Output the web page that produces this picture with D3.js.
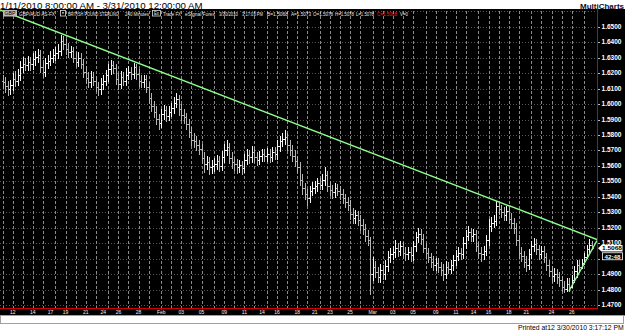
<!DOCTYPE html>
<html>
<head>
<meta charset="utf-8">
<title>GBP/AUD 240 Minutes</title>
<script src="https://d3js.org/d3.v7.min.js"></script>
<style>
body { margin: 0; background: #fff; font-family: "Liberation Sans", Arial, sans-serif; }
svg { display: block; }
</style>
</head>
<body>
<div id="chart"></div>
<script>
var width = 625, height = 331;
var plotRight = 597, plotTop = 9, plotBottom = 308;

// trading sessions (day, number of 240 minute bars)
var sessions = [
  ["Jan 11",4],["Jan 12",4],["Jan 13",4],["Jan 14",4],["Jan 15",3],
  ["Jan 17",2],["Jan 18",4],["Jan 19",4],["Jan 20",4],["Jan 21",4],["Jan 22",3],
  ["Jan 24",2],["Jan 25",4],["Jan 26",4],["Jan 27",4],["Jan 28",4],["Jan 29",3],
  ["Jan 31",2],["Feb 1",4],["Feb 2",4],["Feb 3",4],["Feb 4",4],["Feb 5",3],
  ["Feb 7",2],["Feb 8",4],["Feb 9",4],["Feb 10",4],["Feb 11",4],["Feb 12",3],
  ["Feb 14",2],["Feb 15",4],["Feb 16",4],["Feb 17",4],["Feb 18",4],["Feb 19",3],
  ["Feb 21",2],["Feb 22",4],["Feb 23",4],["Feb 24",4],["Feb 25",4],["Feb 26",3],
  ["Feb 28",2],["Mar 1",4],["Mar 2",4],["Mar 3",4],["Mar 4",4],["Mar 5",3],
  ["Mar 7",2],["Mar 8",4],["Mar 9",4],["Mar 10",4],["Mar 11",4],["Mar 12",3],
  ["Mar 14",2],["Mar 15",4],["Mar 16",4],["Mar 17",4],["Mar 18",4],["Mar 19",3],
  ["Mar 21",2],["Mar 22",4],["Mar 23",4],["Mar 24",4],["Mar 25",4],["Mar 26",3],
  ["Mar 28",2],["Mar 29",3],["Mar 30",1]
];

var tickLabels = [
  ["Jan 12","12"],["Jan 14","14"],["Jan 17","17"],["Jan 19","19"],["Jan 21","21"],
  ["Jan 24","24"],["Jan 26","26"],["Jan 28","28"],["Feb 1","Feb"],["Feb 3","03"],
  ["Feb 5","05"],["Feb 9","09"],["Feb 11","11"],["Feb 14","14"],["Feb 16","16"],
  ["Feb 18","18"],["Feb 21","21"],["Feb 23","23"],["Feb 25","25"],["Mar 1","Mar"],
  ["Mar 3","03"],["Mar 5","05"],["Mar 9","09"],["Mar 11","11"],["Mar 14","14"],
  ["Mar 16","16"],["Mar 18","18"],["Mar 21","21"],["Mar 24","24"],["Mar 26","26"]
];

var priceTicks = [1.47,1.48,1.49,1.50,1.51,1.52,1.53,1.54,1.55,1.56,1.57,1.58,1.59,1.60,1.61,1.62,1.63,1.64,1.65];

var opens = [
  1.6150,1.6140,1.6115,1.6098,1.6120,1.6165,1.6150,1.6185,1.6240,1.6262,
  1.6250,1.6270,1.6258,1.6290,1.6305,1.6318,1.6240,1.6210,1.6265,1.6280,
  1.6300,1.6320,1.6330,1.6345,1.6410,1.6390,1.6355,1.6335,1.6340,1.6300,
  1.6275,1.6300,1.6260,1.6210,1.6170,1.6140,1.6175,1.6150,1.6110,1.6095,
  1.6130,1.6150,1.6185,1.6225,1.6250,1.6235,1.6165,1.6130,1.6175,1.6150,
  1.6190,1.6210,1.6195,1.6240,1.6195,1.6150,1.6140,1.6160,1.6110,1.6040,
  1.5990,1.5950,1.5905,1.5880,1.5935,1.5960,1.5925,1.5950,1.5975,1.6010,
  1.6030,1.5965,1.5930,1.5915,1.5870,1.5820,1.5770,1.5760,1.5735,1.5710,
  1.5650,1.5610,1.5625,1.5590,1.5600,1.5615,1.5630,1.5600,1.5660,1.5700,
  1.5720,1.5650,1.5625,1.5610,1.5590,1.5605,1.5585,1.5640,1.5670,1.5655,
  1.5690,1.5660,1.5640,1.5665,1.5675,1.5665,1.5680,1.5660,1.5690,1.5675,
  1.5730,1.5760,1.5775,1.5790,1.5735,1.5700,1.5665,1.5630,1.5590,1.5510,
  1.5455,1.5420,1.5395,1.5440,1.5460,1.5470,1.5490,1.5480,1.5510,1.5540,
  1.5470,1.5445,1.5430,1.5455,1.5440,1.5420,1.5390,1.5365,1.5350,1.5290,
  1.5265,1.5285,1.5250,1.5220,1.5190,1.5150,1.5120,1.4900,1.4950,1.4915,
  1.4885,1.4930,1.4900,1.4955,1.5010,1.5030,1.5045,1.5070,1.5050,1.5080,
  1.5040,1.5030,1.5045,1.5025,1.5080,1.5140,1.5160,1.5130,1.5070,1.5040,
  1.5010,1.4980,1.4960,1.4975,1.4945,1.4930,1.4900,1.4950,1.4935,1.4960,
  1.4990,1.5020,1.5040,1.5030,1.5100,1.5150,1.5170,1.5145,1.5160,1.5080,
  1.5040,1.5030,1.5050,1.5120,1.5215,1.5230,1.5245,1.5340,1.5320,1.5300,
  1.5285,1.5310,1.5260,1.5230,1.5200,1.5120,1.5040,1.5020,1.4980,1.4960,
  1.5030,1.5080,1.5095,1.5060,1.5030,1.5050,1.5010,1.4960,1.4920,1.4890,
  1.4900,1.4880,1.4860,1.4820,1.4805,1.4840,1.4820,1.4860,1.4920,1.4960,
  1.4945,1.4970,1.5010,1.5060,1.5090
];
var highs = [
  1.6190,1.6178,1.6150,1.6155,1.6200,1.6212,1.6225,1.6280,1.6305,1.6298,
  1.6310,1.6302,1.6332,1.6342,1.6358,1.6348,1.6282,1.6300,1.6318,1.6340,
  1.6358,1.6366,1.6385,1.6446,1.6440,1.6420,1.6392,1.6378,1.6372,1.6335,
  1.6338,1.6330,1.6292,1.6245,1.6205,1.6215,1.6208,1.6182,1.6145,1.6168,
  1.6188,1.6218,1.6258,1.6285,1.6278,1.6262,1.6198,1.6212,1.6206,1.6230,
  1.6245,1.6242,1.6267,1.6262,1.6225,1.6185,1.6190,1.6188,1.6140,1.6070,
  1.6022,1.5988,1.5938,1.5968,1.5995,1.5990,1.5985,1.6008,1.6048,1.6072,
  1.6058,1.5998,1.5965,1.5945,1.5905,1.5852,1.5810,1.5795,1.5770,1.5740,
  1.5688,1.5665,1.5658,1.5638,1.5650,1.5668,1.5665,1.5698,1.5742,1.5770,
  1.5750,1.5688,1.5660,1.5642,1.5640,1.5635,1.5675,1.5712,1.5705,1.5730,
  1.5722,1.5692,1.5698,1.5712,1.5708,1.5715,1.5710,1.5725,1.5720,1.5765,
  1.5795,1.5812,1.5830,1.5815,1.5770,1.5735,1.5700,1.5665,1.5625,1.5545,
  1.5490,1.5450,1.5472,1.5495,1.5505,1.5522,1.5520,1.5548,1.5590,1.5565,
  1.5500,1.5478,1.5488,1.5482,1.5470,1.5450,1.5420,1.5398,1.5378,1.5325,
  1.5318,1.5312,1.5280,1.5255,1.5225,1.5185,1.5142,1.5010,1.4985,1.4950,
  1.4968,1.4962,1.4990,1.5050,1.5068,1.5085,1.5122,1.5105,1.5118,1.5110,
  1.5075,1.5078,1.5075,1.5115,1.5175,1.5200,1.5192,1.5160,1.5105,1.5070,
  1.5040,1.5015,1.5008,1.5005,1.4982,1.4965,1.4985,1.4980,1.4995,1.5022,
  1.5055,1.5075,1.5072,1.5138,1.5188,1.5212,1.5202,1.5195,1.5188,1.5110,
  1.5075,1.5085,1.5155,1.5255,1.5268,1.5280,1.5373,1.5362,1.5350,1.5332,
  1.5342,1.5338,1.5295,1.5262,1.5230,1.5152,1.5078,1.5052,1.5018,1.5062,
  1.5115,1.5132,1.5125,1.5090,1.5082,1.5080,1.5040,1.4995,1.4955,1.4938,
  1.4935,1.4915,1.4890,1.4855,1.4875,1.4875,1.4895,1.4955,1.4995,1.4990,
  1.5000,1.5038,1.5092,1.5128,1.5112
];
var lows = [
  1.6105,1.6080,1.6060,1.6068,1.6092,1.6118,1.6122,1.6158,1.6210,1.6218,
  1.6220,1.6222,1.6228,1.6255,1.6272,1.6205,1.6175,1.6182,1.6232,1.6250,
  1.6270,1.6288,1.6300,1.6318,1.6358,1.6322,1.6302,1.6305,1.6270,1.6245,
  1.6245,1.6230,1.6178,1.6138,1.6110,1.6112,1.6120,1.6082,1.6060,1.6068,
  1.6100,1.6120,1.6152,1.6195,1.6202,1.6132,1.6095,1.6102,1.6120,1.6122,
  1.6162,1.6165,1.6170,1.6162,1.6118,1.6110,1.6112,1.6080,1.6008,1.5958,
  1.5918,1.5872,1.5840,1.5850,1.5902,1.5892,1.5895,1.5922,1.5945,1.5978,
  1.5932,1.5895,1.5880,1.5840,1.5790,1.5738,1.5725,1.5702,1.5678,1.5618,
  1.5562,1.5578,1.5545,1.5555,1.5568,1.5582,1.5570,1.5572,1.5628,1.5672,
  1.5618,1.5588,1.5575,1.5552,1.5560,1.5545,1.5558,1.5610,1.5622,1.5628,
  1.5628,1.5605,1.5610,1.5632,1.5630,1.5635,1.5625,1.5632,1.5642,1.5648,
  1.5698,1.5728,1.5742,1.5705,1.5668,1.5632,1.5598,1.5558,1.5478,1.5420,
  1.5388,1.5347,1.5368,1.5410,1.5428,1.5440,1.5448,1.5452,1.5480,1.5438,
  1.5415,1.5395,1.5400,1.5410,1.5388,1.5358,1.5332,1.5318,1.5258,1.5230,
  1.5232,1.5220,1.5188,1.5158,1.5118,1.5090,1.4770,1.4862,1.4880,1.4848,
  1.4850,1.4868,1.4872,1.4922,1.4978,1.4998,1.5012,1.5018,1.5022,1.5008,
  1.4990,1.5000,1.4988,1.4995,1.5048,1.5108,1.5098,1.5042,1.5008,1.4978,
  1.4948,1.4928,1.4930,1.4912,1.4895,1.4862,1.4875,1.4905,1.4908,1.4930,
  1.4960,1.4990,1.4998,1.5002,1.5070,1.5122,1.5118,1.5115,1.5050,1.5005,
  1.4988,1.5000,1.5022,1.5092,1.5182,1.5205,1.5218,1.5288,1.5268,1.5252,
  1.5252,1.5230,1.5198,1.5168,1.5088,1.5008,1.4988,1.4948,1.4918,1.4932,
  1.5002,1.5052,1.5030,1.4998,1.5005,1.4980,1.4928,1.4888,1.4852,1.4858,
  1.4845,1.4825,1.4795,1.4787,1.4795,1.4792,1.4815,1.4852,1.4885,1.4915,
  1.4942,1.4968,1.5005,1.5035,1.5062
];
var closes = [
  1.6140,1.6115,1.6098,1.6120,1.6165,1.6150,1.6185,1.6240,1.6262,1.6250,
  1.6270,1.6258,1.6290,1.6305,1.6318,1.6240,1.6210,1.6265,1.6280,1.6300,
  1.6320,1.6330,1.6345,1.6410,1.6390,1.6355,1.6335,1.6340,1.6300,1.6275,
  1.6300,1.6260,1.6210,1.6170,1.6140,1.6175,1.6150,1.6110,1.6095,1.6130,
  1.6150,1.6185,1.6225,1.6250,1.6235,1.6165,1.6130,1.6175,1.6150,1.6190,
  1.6210,1.6195,1.6240,1.6195,1.6150,1.6140,1.6160,1.6110,1.6040,1.5990,
  1.5950,1.5905,1.5880,1.5935,1.5960,1.5925,1.5950,1.5975,1.6010,1.6030,
  1.5965,1.5930,1.5915,1.5870,1.5820,1.5770,1.5760,1.5735,1.5710,1.5650,
  1.5610,1.5625,1.5590,1.5600,1.5615,1.5630,1.5600,1.5660,1.5700,1.5720,
  1.5650,1.5625,1.5610,1.5590,1.5605,1.5585,1.5640,1.5670,1.5655,1.5690,
  1.5660,1.5640,1.5665,1.5675,1.5665,1.5680,1.5660,1.5690,1.5675,1.5730,
  1.5760,1.5775,1.5790,1.5735,1.5700,1.5665,1.5630,1.5590,1.5510,1.5455,
  1.5420,1.5395,1.5440,1.5460,1.5470,1.5490,1.5480,1.5510,1.5540,1.5470,
  1.5445,1.5430,1.5455,1.5440,1.5420,1.5390,1.5365,1.5350,1.5290,1.5265,
  1.5285,1.5250,1.5220,1.5190,1.5150,1.5120,1.4900,1.4950,1.4915,1.4885,
  1.4930,1.4900,1.4955,1.5010,1.5030,1.5045,1.5070,1.5050,1.5080,1.5040,
  1.5030,1.5045,1.5025,1.5080,1.5140,1.5160,1.5130,1.5070,1.5040,1.5010,
  1.4980,1.4960,1.4975,1.4945,1.4930,1.4900,1.4950,1.4935,1.4960,1.4990,
  1.5020,1.5040,1.5030,1.5100,1.5150,1.5170,1.5145,1.5160,1.5080,1.5040,
  1.5030,1.5050,1.5120,1.5215,1.5230,1.5245,1.5340,1.5320,1.5300,1.5285,
  1.5310,1.5260,1.5230,1.5200,1.5120,1.5040,1.5020,1.4980,1.4960,1.5030,
  1.5080,1.5095,1.5060,1.5030,1.5050,1.5010,1.4960,1.4920,1.4890,1.4900,
  1.4880,1.4860,1.4820,1.4805,1.4840,1.4820,1.4860,1.4920,1.4960,1.4945,
  1.4970,1.5010,1.5060,1.5090,1.5068
];

// hand drawn trend lines: [bar index, price]
var resistanceLine = [[-1.03, 1.6608], [236.06, 1.5124]];
var supportLine = [[224.9, 1.4790], [236.06, 1.5118]];

var lastPrice = 1.5068;
var barTimeLeft = "42:48";

var svg = d3.select("#chart").append("svg")
  .attr("width", width).attr("height", height)
  .style("font-family", '"Liberation Sans", Arial, sans-serif');

// squeeze a text horizontally so it fills a given width
function fitText(sel, w) {
  sel.each(function () {
    var natural = this.getComputedTextLength();
    var t = d3.select(this);
    var tx = +t.attr("x"), ty = +t.attr("y");
    t.attr("x", 0).attr("y", 0)
      .attr("transform", "translate(" + tx + "," + ty + ") scale(" + (w / natural) + ",1)");
  });
}

// titles on white
svg.append("text").attr("x", 0).attr("y", 8.5).attr("font-size", 9.5)
  .text("1/11/2010 8:00:00 AM - 3/31/2010 12:00:00 AM")
  .call(fitText, 203);
svg.append("text").attr("x", 624).attr("y", 8.5).attr("text-anchor", "end")
  .attr("font-size", 8).attr("font-weight", "bold").attr("fill", "#0a0a30")
  .text("MultiCharts");

// black chart window
svg.append("rect").attr("x", 0).attr("y", plotTop).attr("width", width).attr("height", 315.5 - plotTop)
  .attr("fill", "#000");

var x = d3.scaleLinear().domain([0, 234]).range([2.6, 591.8]);
var y = d3.scaleLinear().domain([1.47, 1.65]).range([305.2, 26.7]);

// session start bar indices
var sessionStart = {};
var n = 0;
sessions.forEach(function (s) { sessionStart[s[0]] = n; n += s[1]; });

svg.append("defs").append("clipPath").attr("id", "plotclip")
  .append("rect").attr("x", 0).attr("y", plotTop).attr("width", plotRight).attr("height", plotBottom - plotTop);

var plot = svg.append("g").attr("clip-path", "url(#plotclip)");

// grid
plot.selectAll(".hgrid").data(priceTicks.concat([1.66])).enter().append("line")
  .attr("x1", 0).attr("x2", plotRight)
  .attr("y1", function (d) { return Math.round(y(d)) + 0.5; })
  .attr("y2", function (d) { return Math.round(y(d)) + 0.5; })
  .attr("stroke", "#555").attr("stroke-dasharray", "1,2");

// one dashed line per weekday session (the short sunday sessions get none)
var gridSessions = sessions.filter(function (s) { return s[1] > 2; });
plot.selectAll(".vgrid").data(gridSessions).enter().append("line")
  .attr("x1", function (d) { return Math.round(x(sessionStart[d[0]])) + 0.5; })
  .attr("x2", function (d) { return Math.round(x(sessionStart[d[0]])) + 0.5; })
  .attr("y1", plotTop + 2).attr("y2", plotBottom)
  .attr("stroke", "#8a8a8a").attr("stroke-dasharray", "3,2");

// OHLC bars
var bars = plot.selectAll(".bar").data(closes).enter().append("g")
  .attr("stroke", function (d, i) { return d >= opens[i] ? "#f6f6f6" : "#b4b4b4"; })
  .attr("shape-rendering", "crispEdges");
bars.append("line")
  .attr("x1", function (d, i) { return Math.round(x(i)) + 0.5; })
  .attr("x2", function (d, i) { return Math.round(x(i)) + 0.5; })
  .attr("y1", function (d, i) { return y(highs[i]); })
  .attr("y2", function (d, i) { return y(lows[i]) + 1; });
bars.append("line")
  .attr("x1", function (d, i) { return Math.round(x(i)) - 1; })
  .attr("x2", function (d, i) { return Math.round(x(i)); })
  .attr("y1", function (d, i) { return Math.round(y(opens[i])) + 0.5; })
  .attr("y2", function (d, i) { return Math.round(y(opens[i])) + 0.5; });
bars.append("line")
  .attr("x1", function (d, i) { return Math.round(x(i)) + 1; })
  .attr("x2", function (d, i) { return Math.round(x(i)) + 2; })
  .attr("y1", function (d) { return Math.round(y(d)) + 0.5; })
  .attr("y2", function (d) { return Math.round(y(d)) + 0.5; });

// trend lines
var trend = d3.line().x(function (d) { return x(d[0]); }).y(function (d) { return y(d[1]); });
[resistanceLine, supportLine].forEach(function (l) {
  plot.append("path").attr("d", trend(l)).attr("fill", "none")
    .attr("stroke", "#8cff8c").attr("stroke-width", 1.4);
});

// header line inside the window
var header = svg.append("g").attr("font-size", 5.5).attr("fill", "#e8e8e8");
header.append("rect").attr("x", 3).attr("y", 10).attr("width", 14).attr("height", 6.5).attr("fill", "#b8b8b8");
header.append("text").attr("x", 4.5).attr("y", 15.3).attr("fill", "#000").attr("font-size", 5)
  .text("GBP").call(fitText, 11);
header.append("rect").attr("x", 60.5).attr("y", 10.5).attr("width", 5).attr("height", 5.5)
  .attr("fill", "#000").attr("stroke", "#ddd").attr("stroke-width", 0.8);
header.append("path").attr("d", "M61.8,12.3 L64.2,12.3 L63,14.2 Z").attr("fill", "#ddd");
header.append("rect").attr("x", 152.5).attr("y", 10.5).attr("width", 8).attr("height", 5.5)
  .attr("fill", "#000").attr("stroke", "#ddd").attr("stroke-width", 0.8);
header.append("text").attr("x", 154).attr("y", 15).attr("font-size", 4.5).text("Ex").call(fitText, 5);
var headerItems = [
  ["GBP/AUD AS-FX", 19, 36, "#e8e8e8"],
  ["BRITISH POUND STERLING", 68, 51, "#e8e8e8"],
  ["240 Minutes", 125, 24, "#e8e8e8"],
  ["Trade FX", 163, 18, "#e8e8e8"],
  ["eSignal Forex", 185, 30, "#e8e8e8"],
  ["3/30/2010", 219, 19, "#e8e8e8"],
  ["3:17:03 PM", 242, 21, "#e8e8e8"],
  ["B=1.5068", 267, 21, "#e8e8e8"],
  ["A=1.5073", 291, 20, "#e8e8e8"],
  ["O=1.5078", 313, 20, "#e8e8e8"],
  ["H=1.5078", 335, 19, "#e8e8e8"],
  ["L=1.5078", 356, 18, "#e8e8e8"],
  ["C=1.5068", 377, 20, "#ff2020"],
  ["V=0", 400, 8, "#e8e8e8"]
];
header.selectAll(".hi").data(headerItems).enter().append("text")
  .attr("x", function (d) { return d[1]; }).attr("y", 15.5)
  .attr("fill", function (d) { return d[3]; })
  .text(function (d) { return d[0]; })
  .each(function (d) { d3.select(this).call(fitText, d[2]); });

// price axis; the label under the countdown box is hidden there, so it is left out
var py = y(lastPrice);
var shownTicks = priceTicks.filter(function (d) { return Math.abs(y(d) - (py + 8)) > 4; });
svg.selectAll(".ptick").data(priceTicks).enter().append("line")
  .attr("x1", plotRight).attr("x2", plotRight + 3)
  .attr("y1", function (d) { return Math.round(y(d)) + 0.5; })
  .attr("y2", function (d) { return Math.round(y(d)) + 0.5; })
  .attr("stroke", "#bbb");
svg.selectAll(".plabel").data(shownTicks).enter().append("text")
  .attr("x", 601.5).attr("y", function (d) { return y(d) + 2; })
  .attr("font-size", 6.3).attr("font-weight", "bold").attr("fill", "#fff")
  .text(function (d) { return d.toFixed(4); })
  .each(function () { d3.select(this).call(fitText, 20); });

// axis frame lines in red
svg.append("line").attr("x1", plotRight + 0.5).attr("x2", plotRight + 0.5)
  .attr("y1", plotTop).attr("y2", plotBottom + 1).attr("stroke", "#d00000");
svg.append("line").attr("x1", 0).attr("x2", plotRight + 1)
  .attr("y1", plotBottom + 0.5).attr("y2", plotBottom + 0.5).attr("stroke", "#d00000");

// time axis labels
svg.selectAll(".dtick").data(tickLabels).enter().append("line")
  .attr("x1", function (d) { return Math.round(x(sessionStart[d[0]])) + 0.5; })
  .attr("x2", function (d) { return Math.round(x(sessionStart[d[0]])) + 0.5; })
  .attr("y1", plotBottom).attr("y2", plotBottom + 2.5).attr("stroke", "#d00000");
svg.selectAll(".dlabel").data(tickLabels).enter().append("text")
  .attr("x", function (d) { return x(sessionStart[d[0]]); }).attr("y", 314.3)
  .attr("text-anchor", "middle").attr("font-size", 5).attr("fill", "#f0f0f0")
  .text(function (d) { return d[1]; });

// last price marker and bar countdown
svg.append("path")
  .attr("d", "M598," + py + " L601.5," + (py - 3.3) + " L622.5," + (py - 3.3) +
    " L622.5," + (py + 3.3) + " L601.5," + (py + 3.3) + " Z")
  .attr("fill", "#fff");
svg.append("text").attr("x", 602).attr("y", py + 2.2)
  .attr("font-size", 6.2).attr("font-weight", "bold").attr("fill", "#000")
  .text(lastPrice.toFixed(4)).call(fitText, 20);
svg.append("rect").attr("x", 602.5).attr("y", py + 4.5).attr("width", 20).attr("height", 7)
  .attr("fill", "#000").attr("stroke", "#fff").attr("stroke-width", 0.8);
svg.append("text").attr("x", 612.5).attr("y", py + 10.3).attr("text-anchor", "middle")
  .attr("font-size", 6.2).attr("font-weight", "bold").attr("fill", "#fff")
  .text(barTimeLeft);

// status strip and print stamp
svg.append("rect").attr("x", 0.5).attr("y", 315.5).attr("width", 623).attr("height", 8)
  .attr("fill", "#fff").attr("stroke", "#a0a0a0");
svg.append("text").attr("x", 518).attr("y", 329.5).attr("font-size", 6.8)
  .text("Printed at12 3/30/2010 3:17:12 PM").call(fitText, 106);
</script>
</body>
</html>
